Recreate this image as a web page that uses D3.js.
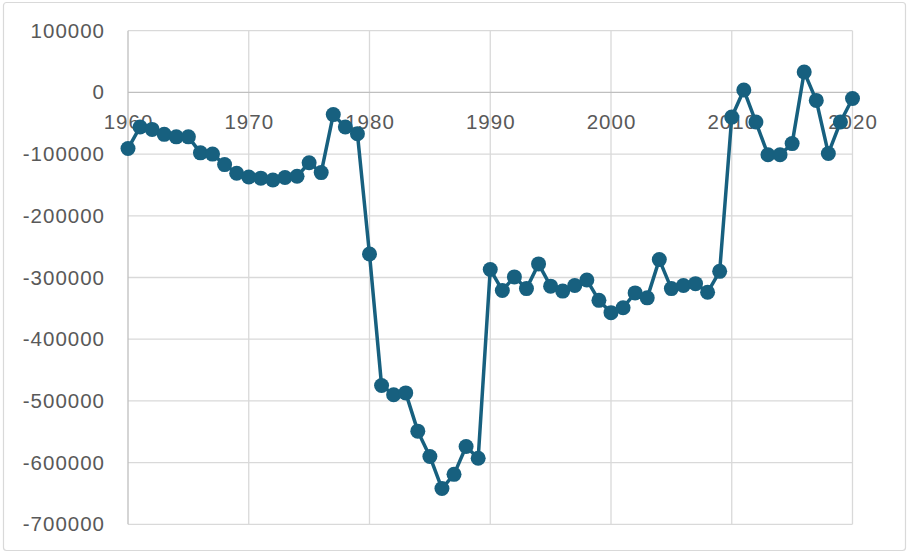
<!DOCTYPE html>
<html>
<head>
<meta charset="utf-8">
<script src="https://cdn.jsdelivr.net/npm/d3@7"></script>
<style>
  html, body { margin: 0; padding: 0; background: #fff; }
  svg { display: block; }
  text { font-family: "Liberation Sans", Arial, sans-serif; fill: #595959; }
</style>
</head>
<body>
<svg id="chart" width="908" height="552"></svg>
<script>
// Annual net balance by year
const years = [
  1960, 1961, 1962, 1963, 1964, 1965, 1966, 1967, 1968, 1969,
  1970, 1971, 1972, 1973, 1974, 1975, 1976, 1977, 1978, 1979,
  1980, 1981, 1982, 1983, 1984, 1985, 1986, 1987, 1988, 1989,
  1990, 1991, 1992, 1993, 1994, 1995, 1996, 1997, 1998, 1999,
  2000, 2001, 2002, 2003, 2004, 2005, 2006, 2007, 2008, 2009,
  2010, 2011, 2012, 2013, 2014, 2015, 2016, 2017, 2018, 2019,
  2020
];
const values = [
  -91000, -56000, -60000, -68000, -72000, -72000, -98000, -100000, -117000, -131000,
  -137000, -139000, -142000, -138000, -136000, -114000, -130000, -36000, -56000, -67000,
  -262000, -475000, -490000, -487000, -549000, -590000, -642000, -619000, -574000, -593000,
  -287000, -321000, -299000, -318000, -278000, -314000, -322000, -313000, -304000, -337000,
  -357000, -349000, -325000, -333000, -271000, -318000, -313000, -310000, -324000, -290000,
  -40000, 4000, -48000, -101000, -101000, -83000, 33000, -13000, -99000, -48000,
  -10000
];
const xTicks = [1960, 1970, 1980, 1990, 2000, 2010, 2020];
const yTicks = [100000, 0, -100000, -200000, -300000, -400000, -500000, -600000, -700000];

const svg = d3.select("#chart");
const W = 908, H = 552;

const x = d3.scaleLinear().domain([1960, 2020]).range([128, 852.5]);
const y = d3.scaleLinear().domain([-700000, 100000]).range([524.3, 30.7]);

// plain integer labels with an ASCII hyphen for negatives
const fmt = d => String(d);

// chart frame
svg.append("rect")
  .attr("x", 3.5).attr("y", 2.5)
  .attr("width", W - 6).attr("height", H - 4)
  .attr("rx", 3)
  .attr("fill", "#fff")
  .attr("stroke", "#d9d9d9")
  .attr("stroke-width", 1.2);

// horizontal gridlines
svg.append("g").selectAll("line")
  .data(yTicks.filter(d => d !== 0))
  .join("line")
  .attr("x1", x(1960)).attr("x2", x(2020))
  .attr("y1", d => y(d)).attr("y2", d => y(d))
  .attr("stroke", "#d9d9d9").attr("stroke-width", 1.3);

// vertical gridlines
svg.append("g").selectAll("line")
  .data(xTicks.filter(d => d !== 1960))
  .join("line")
  .attr("x1", d => x(d)).attr("x2", d => x(d))
  .attr("y1", y(100000)).attr("y2", y(-700000))
  .attr("stroke", "#d9d9d9").attr("stroke-width", 1.3);

// axis lines: value axis at left, category axis crossing at zero
svg.append("line")
  .attr("x1", x(1960)).attr("x2", x(1960))
  .attr("y1", y(100000)).attr("y2", y(-700000))
  .attr("stroke", "#bfbfbf").attr("stroke-width", 1.3);
svg.append("line")
  .attr("x1", x(1960)).attr("x2", x(2020))
  .attr("y1", y(0)).attr("y2", y(0))
  .attr("stroke", "#bfbfbf").attr("stroke-width", 1.3);

const labelStyle = sel => sel
  .attr("font-size", 20.5)
  .attr("letter-spacing", "1px")
  .attr("fill", "#595959")
  .attr("font-family", "Liberation Sans, Arial, sans-serif");

// y axis labels
const yAxis = d3.axisLeft(y).tickValues(yTicks).tickSize(0).tickPadding(0).tickFormat(fmt);
const gy = svg.append("g").attr("transform", "translate(105,0)").call(yAxis);
gy.select(".domain").remove();
gy.selectAll("text").call(labelStyle);

// x axis labels, placed just under the zero line
const xAxis = d3.axisBottom(x).tickValues(xTicks).tickSize(0).tickPadding(0).tickFormat(fmt);
const gx = svg.append("g").attr("transform", `translate(0,${y(0) + 22})`).call(xAxis);
gx.select(".domain").remove();
gx.selectAll("text").call(labelStyle);

// series line and markers
const data = years.map((yr, i) => ({ yr, v: values[i] }));
const color = "#17607f";

svg.append("path")
  .datum(data)
  .attr("fill", "none")
  .attr("stroke", color)
  .attr("stroke-width", 3.5)
  .attr("stroke-linejoin", "round")
  .attr("d", d3.line().x(d => x(d.yr)).y(d => y(d.v)));

svg.append("g").selectAll("circle")
  .data(data)
  .join("circle")
  .attr("cx", d => x(d.yr))
  .attr("cy", d => y(d.v))
  .attr("r", 7.5)
  .attr("fill", color);
</script>
</body>
</html>
